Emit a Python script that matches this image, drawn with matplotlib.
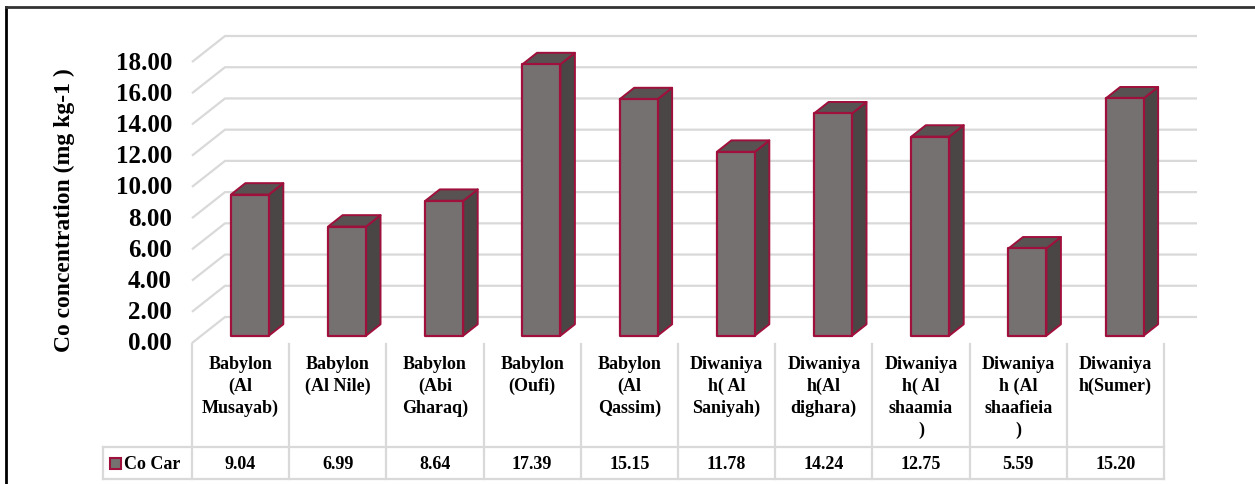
import matplotlib
matplotlib.use("Agg")
import matplotlib.pyplot as plt
from matplotlib.patches import Polygon, Rectangle

plt.rcParams['font.family'] = ['Liberation Serif', 'DejaVu Serif']
plt.rcParams['font.weight'] = 'bold'

# ---- data ----
categories = ["Babylon\n(Al\nMusayab)", "Babylon\n(Al Nile)", "Babylon\n(Abi\nGharaq)",
              "Babylon\n(Oufi)", "Babylon\n(Al\nQassim)", "Diwaniya\nh( Al\nSaniyah)",
              "Diwaniya\nh(Al\ndighara)", "Diwaniya\nh( Al\nshaamia\n)",
              "Diwaniya\nh (Al\nshaafieia\n)", "Diwaniya\nh(Sumer)"]
values = [9.04, 6.99, 8.64, 17.39, 15.15, 11.78, 14.24, 12.75, 5.59, 15.20]
series_name = "Co Car"
y_ticks = [0, 2, 4, 6, 8, 10, 12, 14, 16, 18]
y_title = "Co concentration (mg kg-1 )"

# ---- styling ----
W, H = 1255, 485
FRONT = "#767171"
SIDE = "#4b4646"
TOP = "#585252"
EDGE = "#a0103c"
GRID = "#d9d9d9"

fig = plt.figure(figsize=(W / 100, H / 100), dpi=100)

# pixel-space overlay axes for static frame / table
axp = fig.add_axes([0, 0, 1, 1])
axp.set_xlim(0, W)
axp.set_ylim(H, 0)
axp.axis('off')

# data axes: front plane
x_left_px, x_right_px = 192, 1164
y0_px, y18_px = 344, 63
ax = fig.add_axes([x_left_px / W, (H - y0_px) / H,
                   (x_right_px - x_left_px) / W, (y0_px - y18_px) / H])
ax.set_facecolor('none')
n = len(values)
ax.set_xlim(-0.5, n - 0.5)
ax.set_ylim(0, 18)
ax.axis('off')

px_x = (x_right_px - x_left_px) / n
px_y = (y0_px - y18_px) / 18.0
DX = 33 / px_x
DY = 26 / px_y

# back wall grid + side wall diagonals
for v in y_ticks:
    ax.plot([-0.5, -0.5 + DX, n - 0.5 + DX], [v, v + DY, v + DY],
            color=GRID, lw=1.6, clip_on=False, zorder=1, solid_capstyle='butt')

# 3D-style bars
f0, f1 = 0.28, 0.72
bw = 0.39
dxb = (f1 - f0) * DX
dyb = (f1 - f0) * DY
for i, v in enumerate(values):
    cx = i + f0 * DX
    xl, xr = cx - bw / 2, cx + bw / 2
    b0 = f0 * DY
    top = v + b0
    side = Polygon([(xr, b0), (xr + dxb, b0 + dyb), (xr + dxb, top + dyb), (xr, top)],
                   closed=True, facecolor=SIDE, edgecolor=EDGE, lw=1.4,
                   clip_on=False, zorder=3, joinstyle='round')
    topf = Polygon([(xl, top), (xl + dxb, top + dyb), (xr + dxb, top + dyb), (xr, top)],
                   closed=True, facecolor=TOP, edgecolor=EDGE, lw=1.4,
                   clip_on=False, zorder=3, joinstyle='round')
    front = Polygon([(xl, b0), (xr, b0), (xr, top), (xl, top)], closed=True,
                    facecolor=FRONT, edgecolor=EDGE, lw=1.6, clip_on=False,
                    zorder=4, joinstyle='round')
    ax.add_patch(side)
    ax.add_patch(topf)
    ax.add_patch(front)

# y tick labels
for v in y_ticks:
    ax.text(-0.5 - 20 / px_x, v, f"{v:.2f}", ha='right', va='center',
            fontsize=18, fontweight='bold', clip_on=False)

# y axis title
axp.text(64, 210, y_title, rotation=90, ha='center', va='center',
         fontsize=17, fontweight='bold')

# outer frame
axp.plot([6, 6], [8, H], color='black', lw=2)
axp.plot([6, W], [8, 8], color='#333333', lw=2)

# data table
row_top, row_mid, row_bot = 345, 448, 480
key_left = 103
for k in range(n + 1):
    xk = x_left_px + k * px_x
    axp.plot([xk, xk], [row_top, row_bot], color=GRID, lw=1.6)
axp.plot([key_left, x_right_px], [row_mid, row_mid], color=GRID, lw=1.6)
axp.plot([key_left, x_right_px], [row_bot, row_bot], color=GRID, lw=1.6)
axp.plot([key_left, key_left], [row_mid, row_bot], color=GRID, lw=1.6)

for i, (lab, v) in enumerate(zip(categories, values)):
    cxp = x_left_px + (i + 0.5) * px_x
    axp.text(cxp, 356, lab, ha='center', va='top', fontsize=13,
             fontweight='bold', linespacing=1.36)
    axp.text(cxp, 465, f"{v:.2f}", ha='center', va='center', fontsize=13,
             fontweight='bold')

axp.add_patch(Rectangle((110, 459), 11, 11, facecolor=FRONT, edgecolor=EDGE, lw=1.5))
axp.text(124, 465, series_name, ha='left', va='center', fontsize=13, fontweight='bold')

fig.savefig("out.png", dpi=100)
